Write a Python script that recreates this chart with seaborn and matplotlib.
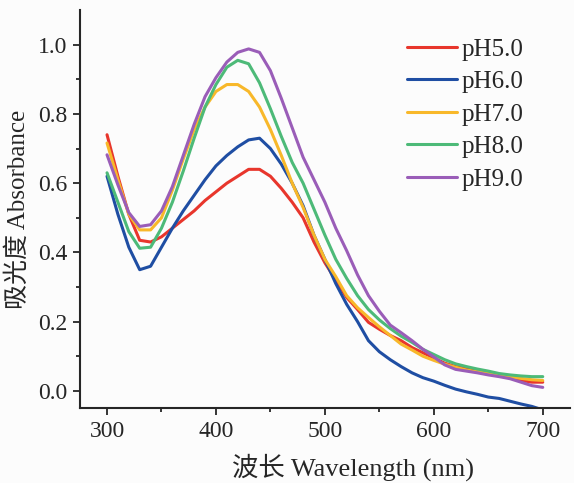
import pandas as pd
import matplotlib.pyplot as plt
import seaborn as sns

# wavelength grid (nm)
wavelength = list(range(300, 701, 10))

# absorbance
ph5 = [0.74, 0.62, 0.51, 0.435, 0.43, 0.445, 0.47, 0.495, 0.52, 0.55,
       0.575, 0.60, 0.62, 0.64, 0.64, 0.62, 0.585, 0.545, 0.50, 0.43,
       0.37, 0.32, 0.27, 0.235, 0.198, 0.178, 0.16, 0.145, 0.125, 0.11,
       0.095, 0.08, 0.07, 0.065, 0.055, 0.05, 0.045, 0.04, 0.03, 0.025, 0.025]
ph6 = [0.62, 0.51, 0.415, 0.35, 0.36, 0.415, 0.47, 0.52, 0.565, 0.61,
       0.65, 0.68, 0.705, 0.725, 0.73, 0.70, 0.655, 0.60, 0.535, 0.45,
       0.38, 0.31, 0.25, 0.20, 0.145, 0.113, 0.09, 0.07, 0.052, 0.038,
       0.028, 0.016, 0.005, -0.003, -0.01, -0.018, -0.022, -0.03, -0.038, -0.045, -0.055]
ph7 = [0.716, 0.61, 0.51, 0.465, 0.465, 0.50, 0.58, 0.67, 0.755, 0.82,
       0.865, 0.885, 0.885, 0.865, 0.82, 0.755, 0.68, 0.60, 0.53, 0.45,
       0.38, 0.33, 0.275, 0.24, 0.212, 0.185, 0.16, 0.135, 0.118, 0.10,
       0.088, 0.077, 0.068, 0.06, 0.055, 0.05, 0.046, 0.04, 0.036, 0.032, 0.03]
ph8 = [0.63, 0.545, 0.46, 0.412, 0.415, 0.47, 0.545, 0.635, 0.73, 0.82,
       0.885, 0.935, 0.955, 0.945, 0.89, 0.815, 0.735, 0.66, 0.60, 0.525,
       0.45, 0.38, 0.325, 0.275, 0.235, 0.205, 0.18, 0.158, 0.14, 0.12,
       0.105, 0.09, 0.078, 0.07, 0.063, 0.057, 0.05, 0.046, 0.043, 0.041, 0.041]
ph9 = [0.682, 0.595, 0.515, 0.475, 0.48, 0.52, 0.59, 0.68, 0.77, 0.85,
       0.905, 0.95, 0.978, 0.988, 0.978, 0.925, 0.845, 0.76, 0.675, 0.61,
       0.545, 0.47, 0.405, 0.335, 0.275, 0.23, 0.19, 0.168, 0.145, 0.12,
       0.098, 0.075, 0.062, 0.057, 0.052, 0.046, 0.041, 0.035, 0.025, 0.015, 0.01]

series_names = ["pH5.0", "pH6.0", "pH7.0", "pH8.0", "pH9.0"]
colors = ["#e8362c", "#1f4ea3", "#f8b82a", "#4dba78", "#9a5db8"]

# long-form table for seaborn
frames = []
for name, vals in zip(series_names, [ph5, ph6, ph7, ph8, ph9]):
    frames.append(pd.DataFrame({"wavelength": wavelength, "absorbance": vals, "sample": name}))
df = pd.concat(frames, ignore_index=True)

sns.set_style("ticks")
plt.rcParams['font.family'] = ['Liberation Serif', 'Noto Sans CJK SC']

fig = plt.figure(figsize=(5.74, 4.83), dpi=100, facecolor="#fcfcfc")
ax = fig.add_axes([0.139, 0.155, 0.854, 0.824])
ax.set_facecolor("#fcfcfc")

sns.lineplot(data=df, x="wavelength", y="absorbance", hue="sample",
             palette=colors, linewidth=2.2, ax=ax)

ax.set_xlim(275, 725)
ax.set_ylim(-0.05, 1.10)
ax.set_xticks([300, 400, 500, 600, 700])
ax.set_xticks([350, 450, 550, 650], minor=True)
ax.set_yticks([0.0, 0.2, 0.4, 0.6, 0.8, 1.0])
ax.set_yticks([0.1, 0.3, 0.5, 0.7, 0.9], minor=True)
ax.set_yticklabels([f"{v:.1f}" for v in [0.0, 0.2, 0.4, 0.6, 0.8, 1.0]])
ax.tick_params(which="major", direction="out", length=5, width=1.3, labelsize=17, pad=4)
ax.tick_params(which="minor", direction="out", length=3, width=1.3)
for side in ["left", "bottom"]:
    ax.spines[side].set_linewidth(1.5)
sns.despine(ax=ax)

ax.set_xlabel("波长 Wavelength (nm)", fontsize=19)
ax.xaxis.set_label_coords(0.557, -0.113)
ax.set_ylabel("吸光度 Absorbance", fontsize=18, labelpad=6)

leg = ax.legend(frameon=False, loc="upper left", bbox_to_anchor=(0.709, 0.921),
                bbox_transform=fig.transFigure, fontsize=18, handlelength=2.0,
                handletextpad=0.2, labelspacing=0.4, borderpad=0, borderaxespad=0)
for line in leg.get_lines():
    line.set_linewidth(2.2)

fig.savefig("out.png", dpi=100, facecolor=fig.get_facecolor())
